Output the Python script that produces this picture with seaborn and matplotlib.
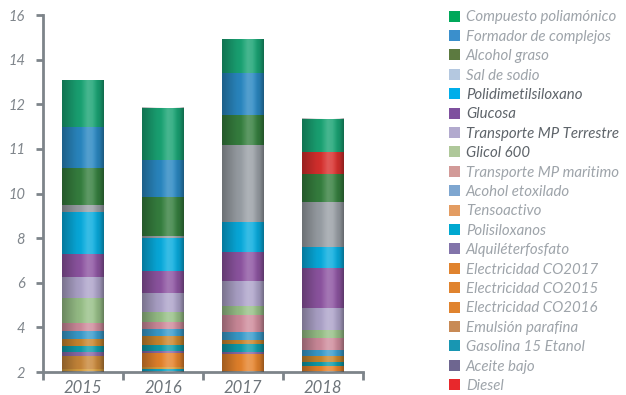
"""
Huella por año: barras apiladas por componente
"""
import numpy as np
import pandas as pd
import matplotlib.pyplot as plt
import seaborn as sns
from matplotlib.patches import Patch

# años
anios = ['2015', '2016', '2017', '2018']

# valores por componente (de abajo hacia arriba en la barra)
polisiloxanos = [0.00, 0.12, 0.00, 0.00]
tensoactivo = [0.12, 0.12, 0.06, 0.06]
electricidad_2015 = [0.62, 0.00, 0.00, 0.00]
electricidad_2016 = [0.00, 0.62, 0.00, 0.00]
electricidad_2017 = [0.00, 0.00, 0.74, 0.20]
aceite_bajo = [0.18, 0.10, 0.08, 0.00]
alquileterfosfato = [0.00, 0.00, 0.00, 0.00]
gasolina = [0.26, 0.26, 0.36, 0.21]
emulsion = [0.32, 0.40, 0.20, 0.26]
acohol_etoxilado = [0.32, 0.32, 0.36, 0.26]
transporte_maritimo = [0.40, 0.32, 0.78, 0.54]
glicol = [1.08, 0.44, 0.36, 0.36]
transporte_terrestre = [0.94, 0.86, 1.16, 0.98]
glucosa = [1.04, 0.98, 1.28, 1.80]
pdms = [1.88, 1.48, 1.34, 0.94]
sal_sodio = [0.32, 0.08, 3.46, 2.02]
alcohol_graso = [1.66, 1.74, 1.34, 1.26]
diesel = [0.00, 0.00, 0.00, 0.98]
formador = [1.84, 1.66, 1.88, 0.00]
compuesto = [2.10, 2.34, 1.52, 1.48]

# etiquetas del eje y tal como aparecen
etiquetas_y = ['2', '4', '6', '8', '10', '11', '12', '14', '16']

# orden de apilado: (nombre, valores, color barra)
apilado = [
    ('Polisiloxanos', polisiloxanos, '#10A4C4'),
    ('Tensoactivo', tensoactivo, '#D9A040'),
    ('Electricidad CO2015', electricidad_2015, '#C8873A'),
    ('Electricidad CO2016', electricidad_2016, '#E5832C'),
    ('Electricidad CO2017', electricidad_2017, '#E5832C'),
    ('Aceite bajo', aceite_bajo, '#8A6AA8'),
    ('Alquiléterfosfato', alquileterfosfato, '#7D6EA7'),
    ('Gasolina 15 Etanol', gasolina, '#109CAA'),
    ('Emulsión parafina', emulsion, '#C9862E'),
    ('Acohol etoxilado', acohol_etoxilado, '#3A9CCC'),
    ('Transporte MP maritimo', transporte_maritimo, '#CF8C9C'),
    ('Glicol 600', glicol, '#98C088'),
    ('Transporte MP Terrestre', transporte_terrestre, '#AEA4CA'),
    ('Glucosa', glucosa, '#8E55A2'),
    ('Polidimetilsiloxano', pdms, '#08ACDE'),
    ('Sal de sodio', sal_sodio, '#9AA0A6'),
    ('Alcohol graso', alcohol_graso, '#36803F'),
    ('Diesel', diesel, '#D8302E'),
    ('Formador de complejos', formador, '#2A88C2'),
    ('Compuesto poliamónico', compuesto, '#1AA474'),
]

# leyenda: (nombre, color, color texto)
gris = '#9EA4AA'
oscuro = '#5E646A'
leyenda = [
    ('Compuesto poliamónico', '#00A85A', gris),
    ('Formador de complejos', '#3A8FCC', gris),
    ('Alcohol graso', '#5C7A40', gris),
    ('Sal de sodio', '#B4C8E0', gris),
    ('Polidimetilsiloxano', '#00AEEA', oscuro),
    ('Glucosa', '#7E509E', oscuro),
    ('Transporte MP Terrestre', '#B2AACE', oscuro),
    ('Glicol 600', '#AFC89A', oscuro),
    ('Transporte MP maritimo', '#D29A98', gris),
    ('Acohol etoxilado', '#7EA6D0', gris),
    ('Tensoactivo', '#E39C62', gris),
    ('Polisiloxanos', '#00A8D0', gris),
    ('Alquiléterfosfato', '#8274AA', gris),
    ('Electricidad CO2017', '#E0832E', gris),
    ('Electricidad CO2015', '#E0832E', gris),
    ('Electricidad CO2016', '#E0832E', gris),
    ('Emulsión parafina', '#C88A55', gris),
    ('Gasolina 15 Etanol', '#1896B2', gris),
    ('Aceite bajo', '#6E6690', gris),
    ('Diesel', '#E8282C', gris),
]

base = 2.0
ancho = 0.525

sns.set_style('white')
plt.rcParams['font.family'] = ['Lato', 'DejaVu Sans']

df = pd.DataFrame({nombre: vals for nombre, vals, _ in apilado}, index=anios)
acumulado = df.cumsum(axis=1) + base

fig = plt.figure(figsize=(6.26, 3.95), dpi=100)
ax = fig.add_axes([0.069, 0.058, 0.511, 0.904])

# barras superpuestas: de la más alta a la más baja
for nombre, _, color in reversed(apilado):
    sns.barplot(x=anios, y=acumulado[nombre].values, color=color, width=ancho,
                saturation=1, ax=ax, zorder=2, linewidth=0, edgecolor='none')

# brillo cilíndrico sobre cada barra
perfil = np.linspace(0, 1, 200)
oscuridad = np.interp(perfil, [0, 0.35, 0.55, 0.75, 0.9, 1], [0.30, 0.06, 0, 0, 0.12, 0.35])
brillo = np.interp(perfil, [0, 0.45, 0.62, 0.72, 0.85, 1], [0, 0, 0.2, 0.16, 0, 0])
capa = np.zeros((1, 200, 4))
capa[..., :3] = (brillo / np.maximum(brillo + oscuridad, 1e-6))[None, :, None]
capa[..., 3] = (brillo + oscuridad)[None, :]
totales = acumulado.iloc[:, -1].values
for i, total in enumerate(totales):
    ax.imshow(capa, extent=(i - ancho / 2, i + ancho / 2, base, total),
              aspect='auto', zorder=3, interpolation='bilinear')

ax.set_xlim(-0.5, 3.5)
ax.set_ylim(base, 18)

# ejes
color_eje = '#7D848A'
sns.despine(ax=ax)
for lado in ['left', 'bottom']:
    ax.spines[lado].set_color(color_eje)
    ax.spines[lado].set_linewidth(2)

ax.set_yticks(np.arange(2, 19, 2))
ax.set_yticklabels(etiquetas_y, fontsize=10.5, style='italic', color='#80868C')
ax.tick_params(axis='y', length=5, width=2, color=color_eje, direction='out', pad=8, left=True)

ax.set_xticks(range(len(anios)))
ax.set_xticklabels(anios, fontsize=12, style='italic', color='#6E757B')
ax.set_xticks(np.arange(-0.5, 4, 1), minor=True)
ax.tick_params(axis='x', which='major', length=0, pad=6)
ax.tick_params(axis='x', which='minor', length=6, width=2, color=color_eje, bottom=True)
ax.set_xlabel('')
ax.set_ylabel('')

# leyenda
handles = [Patch(facecolor=c, edgecolor='none') for _, c, _ in leyenda]
leg = fig.legend(handles, [n for n, _, _ in leyenda], loc='upper left',
                 bbox_to_anchor=(0.695, 1.008), frameon=False,
                 prop={'size': 10.8, 'style': 'italic'},
                 handlelength=0.75, handleheight=0.75, handletextpad=0.4,
                 labelspacing=0.36)
for texto, (_, _, ct) in zip(leg.get_texts(), leyenda):
    texto.set_color(ct)

fig.savefig('out.png', dpi=100)
